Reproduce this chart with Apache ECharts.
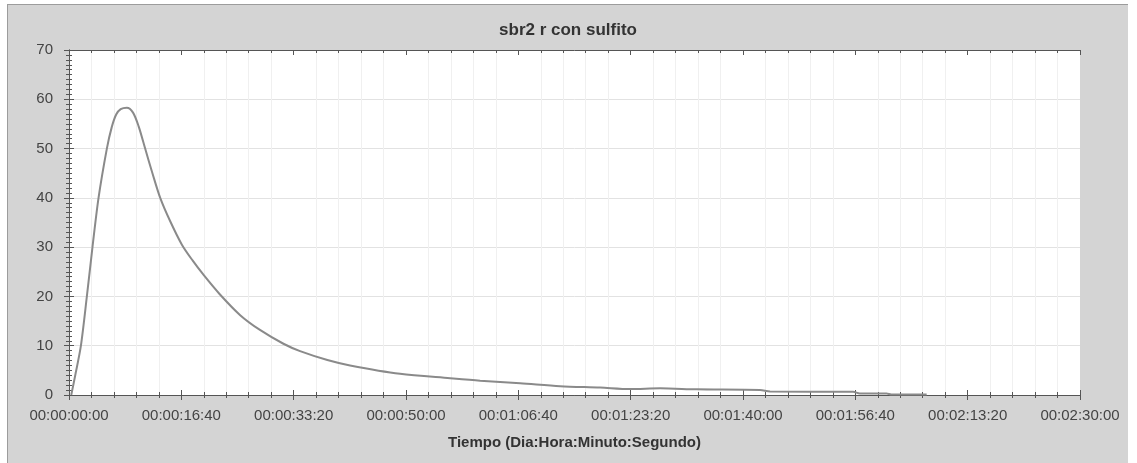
<!DOCTYPE html>
<html>
<head>
<meta charset="utf-8">
<script src="https://cdn.jsdelivr.net/npm/echarts@6/dist/echarts.min.js"></script>
<style>
  html, body { margin: 0; padding: 0; background: #ffffff; }
  #chart { position: absolute; left: 7px; top: 4px; width: 1120px; height: 458px; border: 1px solid #9c9c9c; border-right: none; border-bottom: none; }
</style>
</head>
<body>
<div id="chart"></div>
<script>
// Data (time in seconds, value)
const times  = [20, 60, 106, 159, 209, 263, 337, 380, 420, 460, 515, 570, 620, 678, 740, 812, 900, 1005, 1100, 1200, 1340, 1524, 1700, 1909, 2057, 2300, 2502, 2947, 3393, 3660, 4016, 4372, 4728, 4995, 5262, 5590, 6152, 6241, 6980, 7040, 7278, 7320, 7635];
const values = [0, 4.5, 10, 20, 30, 40, 50, 54.3, 56.9, 58.0, 58.3, 57.3, 54.5, 50, 45.2, 40, 35.3, 30.5, 27.3, 24.3, 20.5, 16.2, 13.2, 10.4, 8.9, 7.1, 6.0, 4.3, 3.4, 2.9, 2.4, 1.8, 1.5, 1.2, 1.35, 1.15, 1.0, 0.7, 0.65, 0.3, 0.3, 0.1, 0.1];
const xTickLabels = ['00:00:00:00', '00:00:16:40', '00:00:33:20', '00:00:50:00', '00:01:06:40', '00:01:23:20', '00:01:40:00', '00:01:56:40', '00:02:13:20', '00:02:30:00'];
const yTickLabels = ['0', '10', '20', '30', '40', '50', '60', '70'];
const titleText = 'sbr2 r con sulfito';
const xAxisName = 'Tiempo (Dia:Hora:Minuto:Segundo)';

const seriesData = times.map((t, i) => [t, values[i]]);
const axisColor = '#555555';
const font = 'Liberation Sans, Arial, sans-serif';

const chart = echarts.init(document.getElementById('chart'));
const baseX = {
  type: 'value', min: 0, max: 9000, interval: 1000,
  axisLine: { show: true, lineStyle: { color: axisColor } },
  splitLine: { show: false },
  minorSplitLine: { show: false }
};
const baseY = {
  type: 'value', min: 0, max: 70, interval: 10,
  axisLine: { show: true, lineStyle: { color: axisColor } },
  splitLine: { show: false }
};
chart.setOption({
  backgroundColor: '#d4d4d4',
  animation: false,
  title: {
    text: titleText, left: 'center', top: 12,
    textStyle: { fontFamily: font, fontSize: 17, fontWeight: 'bold', color: '#333333' }
  },
  grid: {
    left: 61, top: 45, right: 48, bottom: 68,
    show: true, backgroundColor: '#ffffff', borderWidth: 0
  },
  xAxis: [
    Object.assign({}, baseX, {
      position: 'bottom',
      name: xAxisName, nameLocation: 'middle', nameGap: 40,
      nameTextStyle: { fontFamily: font, fontSize: 15, fontWeight: 'bold', color: '#333333' },
      axisTick: { show: true, inside: false, length: 5, lineStyle: { color: axisColor } },
      minorTick: { show: true, splitNumber: 5, length: 3, lineStyle: { color: axisColor } },
      splitLine: { show: false },
      minorSplitLine: { show: true, lineStyle: { color: '#f0f0f0', width: 1 } },
      axisLabel: {
        margin: 13, fontFamily: font, fontSize: 15, color: '#444444',
        formatter: v => xTickLabels[Math.round(v / 1000)]
      }
    }),
    Object.assign({}, baseX, {
      position: 'bottom',
      axisTick: { show: true, inside: true, length: 5, lineStyle: { color: axisColor } },
      minorTick: { show: true, splitNumber: 5, length: 3, lineStyle: { color: axisColor } },
      axisLabel: { show: false }
    }),
    Object.assign({}, baseX, {
      position: 'top',
      axisTick: { show: true, inside: true, length: 5, lineStyle: { color: axisColor } },
      minorTick: { show: true, splitNumber: 5, length: 3, lineStyle: { color: axisColor } },
      axisLabel: { show: false }
    })
  ],
  yAxis: [
    Object.assign({}, baseY, {
      position: 'left',
      axisTick: { show: true, inside: false, length: 5, lineStyle: { color: axisColor } },
      minorTick: { show: true, splitNumber: 10, length: 3, lineStyle: { color: axisColor } },
      splitLine: { show: true, lineStyle: { color: '#e2e2e2', width: 1 } },
      axisLabel: {
        margin: 16, fontFamily: font, fontSize: 15, color: '#444444',
        formatter: v => yTickLabels[Math.round(v / 10)]
      }
    }),
    Object.assign({}, baseY, {
      position: 'left',
      axisTick: { show: true, inside: true, length: 5, lineStyle: { color: axisColor } },
      minorTick: { show: true, splitNumber: 10, length: 3, lineStyle: { color: axisColor } },
      axisLabel: { show: false }
    })
  ],
  series: [{
    type: 'line',
    xAxisIndex: 0, yAxisIndex: 0,
    data: seriesData,
    smooth: 0.3,
    showSymbol: false,
    lineStyle: { color: '#8a8a8a', width: 2 },
    itemStyle: { color: '#8a8a8a' }
  }]
});
</script>
</body>
</html>
